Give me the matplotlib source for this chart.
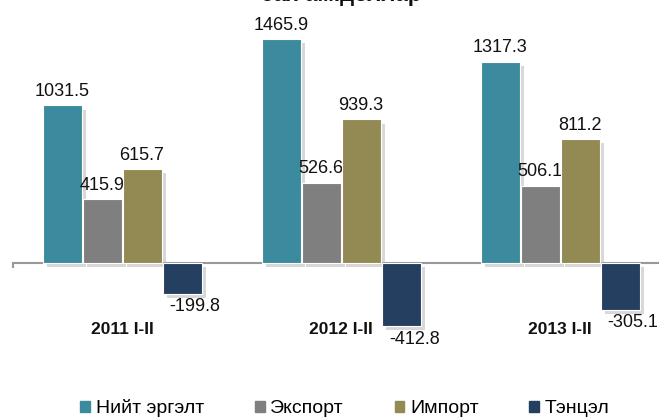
import matplotlib
matplotlib.use("Agg")
import matplotlib.pyplot as plt
import matplotlib.patheffects as pe
import numpy as np

categories = ["2011 I-II", "2012 I-II", "2013 I-II"]
series_names = ["Нийт эргэлт", "Экспорт", "Импорт", "Тэнцэл"]
total = [1031.5, 1465.9, 1317.3]
export = [415.9, 526.6, 506.1]
imports = [615.7, 939.3, 811.2]
balance = [-199.8, -412.8, -305.1]
colors = ["#3B8A9E", "#7F7F7F", "#938953", "#243F60"]
title = "сая ам.доллар"

plt.rcParams['font.family'] = ['Liberation Sans', 'DejaVu Sans']

W, H = 659, 419
fig = plt.figure(figsize=(W / 100, H / 100), dpi=100)
# zero at y=263 px, 1465.9 at y=39 px
scale = (263 - 39) / 1465.9
ymin, ymax = -700, 1800
ax_bottom_px = 263 + (-ymin) * scale
ax_top_px = 263 - ymax * scale
x_left_px = 12.5
x_right_px = 12.5 + 3 * 219
ax = fig.add_axes([x_left_px / W, 1 - ax_bottom_px / H,
                   (x_right_px - x_left_px) / W, (ax_bottom_px - ax_top_px) / H])
ax.set_xlim(-0.5, 2.5)
ax.set_ylim(ymin, ymax)
ax.axis('off')

x = np.arange(len(categories))
bw = 39 / 219
data = [total, export, imports, balance]
offsets = (np.arange(4) - 1.5) * (40 / 219)
shadow = [pe.SimplePatchShadow(offset=(3, -3), shadow_rgbFace='#AAAAAA', alpha=0.45), pe.Normal()]
for i, (vals, c) in enumerate(zip(data, colors)):
    bars = ax.bar(x + offsets[i], vals, width=bw, color=c, edgecolor='white', linewidth=0.8,
                  label=series_names[i], zorder=3)
    for b in bars:
        b.set_path_effects(shadow)
    for xi, v in zip(x + offsets[i], vals):
        if v >= 0:
            ax.text(xi, v + 35, f"{v:.1f}", ha='center', va='bottom', fontsize=13,
                    color='#111111')
        else:
            ax.text(xi + 0.06, v - 30, f"-{abs(v):.1f}", ha='center', va='top', fontsize=13,
                    color='#111111')

# zero axis line
ax.axhline(0, color='#999999', linewidth=1.5, zorder=2, xmin=0, xmax=1)
ax.plot([-0.5, -0.5], [0, -25], color='#999999', linewidth=1.5, clip_on=False)

for xi, cat in zip(x, categories):
    ax.text(xi, (263 - 330) / scale, cat, ha='center', va='center', fontsize=12.5,
            fontweight='bold', color='#111111')

fig.text(341 / W, 1 - (-4) / H, title, ha='center', va='center', fontsize=16,
         fontweight='bold', color='#111111')

handles = [plt.Rectangle((0, 0), 1, 1, color=c) for c in colors]
leg = fig.legend(handles, series_names, loc='center', bbox_to_anchor=(345 / W, 1 - 408 / H),
                 ncol=4, frameon=False, handlelength=0.5, handleheight=0.5,
                 handletextpad=0.3, columnspacing=2.6, prop={'size': 14})

fig.savefig("out.png", dpi=100)
